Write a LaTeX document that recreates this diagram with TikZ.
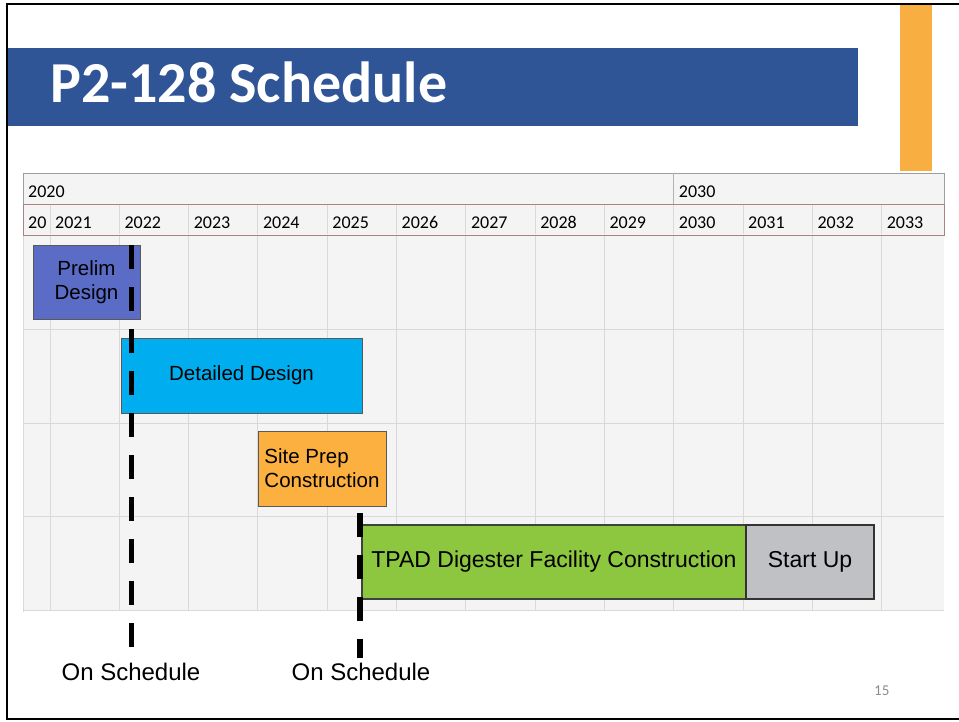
\documentclass[tikz,border=0pt]{standalone}
\usepackage{fontspec}
\setmainfont{Liberation Sans}
\newfontfamily\calfont{Carlito}
\usetikzlibrary{positioning}
\definecolor{titleblue}{RGB}{47,85,151}
\definecolor{sideorange}{RGB}{249,174,65}
\definecolor{prelimblue}{RGB}{91,108,198}
\definecolor{detailcyan}{RGB}{0,174,239}
\definecolor{siteorange}{RGB}{251,176,64}
\definecolor{tpadgreen}{RGB}{141,198,63}
\definecolor{startgrey}{RGB}{191,193,197}
\definecolor{chartbg}{RGB}{244,244,244}
\definecolor{gridline}{RGB}{217,217,217}
\definecolor{hdrred}{RGB}{170,130,130}
\definecolor{pagegrey}{RGB}{140,140,140}
\tikzset{%
	bar/.style      = {draw=black!65, rectangle, inner sep=0pt, outer sep=0pt, line width=1pt, text=black, font=\fontsize{20.5}{24}\selectfont},
	bigbar/.style   = {bar, font=\fontsize{23}{26}\selectfont, line width=1.5pt, draw=black!75},
	milestone/.style= {line width=5.5pt, dash pattern=on 24pt off 18pt, black},
	note/.style     = {font=\fontsize{24}{28}\selectfont, inner sep=0pt, anchor=base},
	yearlbl/.style  = {font=\calfont\fontsize{18}{20}\selectfont, anchor=base west, inner sep=0pt},
	grid/.style     = {draw=gridline, line width=1pt},
}

\begin{document}
\begin{tikzpicture}[x=1pt,y=-1pt]
	\useasboundingbox (0,0) rectangle (959,721);
	% side tab and title
	\fill[sideorange] (900,3) rectangle (932,171);
	\fill[titleblue] (7,48) rectangle (858,126);
	\node[anchor=base west, inner sep=0pt, text=white, font=\calfont\bfseries\fontsize{58}{60}\selectfont] (title) at (50,102) {P2-128 Schedule};
	\draw[line width=2.5pt] (959,4) -- (7,4) -- (7,719) -- (959,719);
	
	% chart body
	\fill[chartbg] (23,235) rectangle (944,610);
	\foreach \yy in {329,423,516,610}
		\draw[grid] (23,\yy) -- (944,\yy);
	\draw[grid] (23,235) -- (23,612);
	\foreach \k in {0,...,12}
		\draw[grid] (50+69.3*\k,235) -- (50+69.3*\k,610);
	
	% header rows
	\draw[fill=chartbg, draw=gray!75, line width=1pt] (23,173) rectangle (944,204);
	\draw[draw=gray!60, line width=1pt] (673.7,173) -- (673.7,204);
	\draw[fill=chartbg, draw=hdrred, line width=1pt] (23,204) rectangle (944,235);
	\foreach \k in {0,...,12}
		\draw[grid] (50+69.3*\k,205) -- (50+69.3*\k,234);
	\node[yearlbl] (dec1) at (28,197) {2020};
	\node[yearlbl] (dec2) at (678.7,197) {2030};
	\node[yearlbl] (y2020) at (28,228) {20};
	\foreach \k in {0,...,12}
		\pgfmathtruncatemacro{\yr}{2021+\k}
		\node[yearlbl] (y\yr) at (55+69.3*\k,228) {\yr};
	
	% bars
	\node[bar, fill=prelimblue, minimum width=107pt, minimum height=74pt, align=center] (prelim) at (86.5,282) {Prelim\\Design};
	\node[bar, fill=detailcyan, minimum width=241pt, minimum height=75pt] (detail) at (241.5,375.5) {Detailed Design};
	\node[bar, fill=siteorange, minimum width=128pt, minimum height=75pt, align=left] (site) at (322,468.5) {Site Prep\\Construction};
	\node[bigbar, fill=tpadgreen, minimum width=384pt, minimum height=74pt] (tpad) at (554,562) {TPAD Digester Facility Construction};
	\node[bigbar, fill=startgrey, minimum width=128pt, minimum height=74pt, line width=2pt, draw=black!80, right=0pt of tpad] (start) {Start Up};
	
	% milestones
	\node[note] (ons1) at (131,680) {On Schedule};
	\node[note] (ons2) at (361,680) {On Schedule};
	\coordinate (m1) at (131.5,245);
	\coordinate (m2) at (360,513);
	\draw[milestone, shorten >=15pt] (m1) -- (m1 |- ons1.north);
	\draw[milestone, shorten >=4pt] (m2) -- (m2 |- ons2.north);
	
	\node[anchor=base west, inner sep=0pt, text=pagegrey, font=\calfont\fontsize{15}{17}\selectfont] (page) at (874,695) {15};
\end{tikzpicture}
\end{document}
